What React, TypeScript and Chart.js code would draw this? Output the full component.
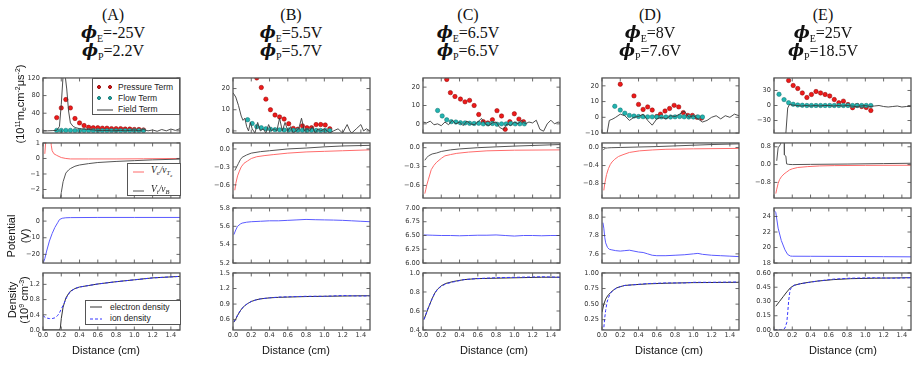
import React, { useEffect, useRef } from 'react';
import { Chart, registerables } from 'chart.js';
Chart.register(...registerables);

// ---------------- data ----------------
const xTicks = [0, 0.2, 0.4, 0.6, 0.8, 1.0, 1.2, 1.4];

// Column A
const A_fieldX = [0, 0.05, 0.1, 0.15, 0.18, 0.2, 0.22, 0.24, 0.26, 0.28, 0.3, 0.33, 0.36, 0.4, 0.45, 0.5, 0.55, 0.6, 0.65, 0.7, 0.75, 0.8, 0.85, 0.9, 0.95, 1.0, 1.05, 1.1, 1.15, 1.2, 1.25, 1.3, 1.35, 1.4, 1.45, 1.5];
const A_fieldY = [0, 0, 0.5, 1, 10, 60, 125, 130, 95, 45, 18, 10, 7, 5, 4, 3, 2, 1, 0.5, 1, 0, 0.5, 1, 0, 1, 2, 0, 3, 0, 2, -1, 3, 0, 4, 1, 5];
const A_presX = [0.15, 0.2, 0.25, 0.3, 0.35, 0.4, 0.45, 0.5, 0.55, 0.6, 0.65, 0.7, 0.75, 0.8, 0.85, 0.9, 0.95, 1.0, 1.05, 1.1];
const A_presY = [30, 52, 71, 52, 28, 18, 12, 8, 7, 7, 6, 6, 5, 5, 5, 4, 4, 3, 3, 2];
const A_flowX = [0.15, 0.2, 0.25, 0.3, 0.35, 0.4, 0.45, 0.5, 0.55, 0.6, 0.65, 0.7, 0.75, 0.8, 0.85, 0.9, 0.95, 1.0, 1.05, 1.1];
const A_flowY = [1, 1, 1, 1, 0.5, 0.5, 0.5, 0.5, 0.5, 0.5, 0.5, 0.5, 0.5, 0.5, 0.5, 0.5, 0.5, 0.5, 0.5, 0.5];
const A_veX = [0.02, 0.035, 0.085, 0.09, 0.1, 0.12, 0.15, 0.2, 0.25, 0.3, 0.5, 0.8, 1.1, 1.5];
const A_veY = [0.3, 1.5, 1.5, 0.86, 0.5, 0.3, 0.2, 0.06, 0.0, -0.03, -0.03, -0.03, -0.02, 0.0];
const A_viX = [0.19, 0.2, 0.22, 0.25, 0.28, 0.3, 0.35, 0.4, 0.5, 0.6, 0.8, 1.0, 1.2, 1.5];
const A_viY = [-2.6, -2.2, -1.5, -0.94, -0.74, -0.65, -0.5, -0.42, -0.33, -0.26, -0.19, -0.14, -0.09, -0.04];
const A_potX = [0, 0.02, 0.04, 0.07, 0.1, 0.13, 0.16, 0.18, 0.21, 0.25, 0.3, 0.6, 1.0, 1.5];
const A_potY = [-25.5, -22.5, -18, -12, -7.5, -3.8, -1, 0.9, 1.7, 2.0, 2.1, 2.2, 2.2, 2.2];
const A_neX = [0, 0.18, 0.19, 0.2, 0.22, 0.25, 0.28, 0.3, 0.35, 0.4, 0.5, 0.6, 0.8, 1.0, 1.2, 1.5];
const A_neY = [0, 0, 0.05, 0.3, 0.6, 0.84, 0.96, 1.02, 1.09, 1.13, 1.17, 1.21, 1.27, 1.32, 1.37, 1.41];
const A_niX = [0, 0.03, 0.07, 0.1, 0.13, 0.16, 0.18, 0.2, 0.23, 0.26, 0.3, 0.35, 0.4, 0.5, 0.6, 0.8, 1.0, 1.2, 1.5];
const A_niY = [0.38, 0.32, 0.3, 0.3, 0.32, 0.38, 0.45, 0.55, 0.7, 0.86, 1.01, 1.09, 1.13, 1.17, 1.21, 1.27, 1.32, 1.37, 1.41];

// Column B
const B_fieldX = [0, 0.03, 0.06, 0.09, 0.11, 0.13, 0.15, 0.17, 0.19, 0.21, 0.24, 0.27, 0.3, 0.33, 0.36, 0.39, 0.42, 0.45, 0.48, 0.51, 0.54, 0.57, 0.6, 0.63, 0.66, 0.69, 0.72, 0.75, 0.78, 0.81, 0.84, 0.87, 0.9, 0.93, 0.96, 1.0, 1.03, 1.06, 1.1, 1.15, 1.2, 1.25, 1.28, 1.3, 1.35, 1.4, 1.43, 1.46, 1.5];
const B_fieldY = [18, 16, 12, 7, 5, 6, 2, 0, 4, 1, -1, 4, 0, 1, -1, 3, 0, 1, 0, 6, 0, 4, 0, 2, -1, 0, 1, 6, 0, 1, 0, 2, -1, 1, 0, 1, 0, -1, 0, 1, -1, 3, 0, -1, 1, 3, 0, 1, 0];
const B_presX = [0.26, 0.31, 0.36, 0.41, 0.46, 0.51, 0.56, 0.61, 0.66, 0.71, 0.76, 0.81, 0.86, 0.91, 0.96, 1.01, 1.06];
const B_presY = [25, 20.5, 15, 10, 7.5, 6.6, 5.6, 3.4, 1.2, 0.8, 2.4, 1.5, 1.5, 3, 3, 2.8, 1];
const B_flowX = [0.16, 0.21, 0.26, 0.31, 0.36, 0.41, 0.46, 0.51, 0.56, 0.61, 0.66, 0.71, 0.76, 0.81, 0.86, 0.91, 0.96, 1.01, 1.06];
const B_flowY = [5.3, 3.5, 2, 1.5, 1, 0.8, 0.6, 0.5, 0.4, 0.4, 0.3, 0.3, 0.3, 0.2, 0.3, 0.2, 0.2, 0.2, 0.2];
const B_veX = [0.02, 0.03, 0.05, 0.07, 0.09, 0.12, 0.16, 0.2, 0.26, 0.35, 0.44, 0.6, 0.8, 1.0, 1.2, 1.5];
const B_veY = [-0.69, -0.58, -0.45, -0.37, -0.3, -0.24, -0.2, -0.16, -0.13, -0.11, -0.095, -0.07, -0.05, -0.04, -0.03, -0.015];
const B_viX = [0.02, 0.04, 0.06, 0.08, 0.1, 0.15, 0.2, 0.3, 0.4, 0.6, 0.8, 1.0, 1.2, 1.5];
const B_viY = [-0.36, -0.3, -0.24, -0.18, -0.14, -0.1, -0.07, -0.045, -0.03, 0.0, 0.015, 0.035, 0.05, 0.06];
const B_potX = [0.01, 0.03, 0.05, 0.08, 0.1, 0.15, 0.2, 0.3, 0.4, 0.5, 0.6, 0.7, 0.8, 0.9, 1.0, 1.1, 1.2, 1.3, 1.4, 1.5];
const B_potY = [5.51, 5.56, 5.6, 5.625, 5.635, 5.645, 5.65, 5.655, 5.66, 5.66, 5.665, 5.67, 5.675, 5.672, 5.67, 5.668, 5.665, 5.66, 5.655, 5.65];
const B_neX = [0.01, 0.03, 0.05, 0.08, 0.1, 0.13, 0.16, 0.2, 0.25, 0.3, 0.4, 0.5, 0.6, 0.8, 1.0, 1.2, 1.4, 1.5];
const B_neY = [0.55, 0.61, 0.68, 0.77, 0.82, 0.87, 0.91, 0.95, 0.98, 1.0, 1.02, 1.03, 1.035, 1.045, 1.05, 1.055, 1.06, 1.06];
const B_niY = [0.56, 0.61, 0.69, 0.77, 0.82, 0.87, 0.91, 0.95, 0.98, 1.0, 1.02, 1.035, 1.04, 1.05, 1.05, 1.065, 1.055, 1.06];

// Column C
const C_fieldX = [0, 0.04, 0.08, 0.12, 0.16, 0.2, 0.24, 0.28, 0.32, 0.36, 0.4, 0.44, 0.48, 0.52, 0.56, 0.6, 0.64, 0.68, 0.72, 0.76, 0.8, 0.84, 0.88, 0.92, 0.96, 1.0, 1.04, 1.08, 1.12, 1.16, 1.2, 1.24, 1.28, 1.32, 1.36, 1.4, 1.44, 1.48, 1.5];
const C_fieldY = [1, 0.5, 1.5, -0.5, 0, -1, 1, -0.5, 2, 0, 1, -1, 1.5, 0, -0.5, 1, 3, 0, -1, 0.5, 1, -2, -3, 0, -1, 1, 0, 2, 0, 1, 0.5, 2, -3, -4, 0, 2, 0, 1, 0.5];
const C_presX = [0.26, 0.3, 0.35, 0.41, 0.46, 0.51, 0.56, 0.61, 0.66, 0.71, 0.76, 0.81, 0.86, 0.9, 0.95, 1.0, 1.05, 1.1];
const C_presY = [24.2, 17, 14.9, 13.5, 12, 12.8, 10, 5.1, 1.2, 0.5, 2.2, 7.2, 4.3, -3, 1.2, 5.5, 2.6, 1.2];
const C_flowX = [0.16, 0.21, 0.26, 0.31, 0.36, 0.41, 0.46, 0.51, 0.56, 0.61, 0.66, 0.71, 0.76, 0.81, 0.86, 0.91, 0.96, 1.01, 1.06, 1.11];
const C_flowY = [7.3, 4.3, 2.2, 1.2, 1, 0.6, 0.5, 0.3, 0.2, 0.3, 0, 0, 0.2, -0.2, 0, 0, 0.2, 0, 0, 0];
const C_veX = [0.02, 0.03, 0.04, 0.06, 0.09, 0.12, 0.15, 0.2, 0.24, 0.3, 0.37, 0.5, 0.7, 1.0, 1.5];
const C_veY = [-0.73, -0.67, -0.6, -0.5, -0.35, -0.28, -0.23, -0.17, -0.13, -0.11, -0.09, -0.07, -0.05, -0.04, -0.035];
const C_viX = [0.02, 0.04, 0.06, 0.1, 0.15, 0.2, 0.3, 0.4, 0.6, 0.8, 1.0, 1.2, 1.5];
const C_viY = [-0.2, -0.16, -0.13, -0.1, -0.084, -0.06, -0.035, -0.02, 0.0, 0.013, 0.025, 0.035, 0.05];
const C_potX = [0.01, 0.1, 0.2, 0.3, 0.4, 0.5, 0.6, 0.7, 0.8, 0.9, 1.0, 1.1, 1.2, 1.3, 1.4, 1.5];
const C_potY = [6.51, 6.505, 6.5, 6.5, 6.495, 6.5, 6.505, 6.505, 6.51, 6.5, 6.49, 6.5, 6.5, 6.495, 6.5, 6.5];
const C_neX = [0.01, 0.03, 0.05, 0.07, 0.1, 0.13, 0.16, 0.2, 0.25, 0.33, 0.45, 0.58, 0.8, 1.05, 1.3, 1.5];
const C_neY = [0.51, 0.56, 0.61, 0.66, 0.73, 0.79, 0.83, 0.865, 0.89, 0.91, 0.93, 0.94, 0.945, 0.95, 0.955, 0.955];
const C_niY = [0.51, 0.56, 0.62, 0.66, 0.73, 0.79, 0.83, 0.86, 0.885, 0.905, 0.93, 0.94, 0.95, 0.955, 0.96, 0.955];

// Column D
const D_fieldX = [0.04, 0.05, 0.08, 0.1, 0.12, 0.15, 0.2, 0.25, 0.3, 0.35, 0.4, 0.45, 0.5, 0.55, 0.6, 0.65, 0.7, 0.75, 0.8, 0.85, 0.9, 0.95, 1.0, 1.05, 1.1, 1.15, 1.2, 1.25, 1.3, 1.35, 1.4, 1.45, 1.5];
const D_fieldY = [-30, -12, -2, -1.5, -1, 0, 2, 1, -2, 0, 0.5, 2, -2, -5, -1, 0, -1, 1, 0.5, 2, 4, 0, 1, -1, -3, -2, 0, 1, -1, 1, 0, 2, 1];
const D_presX = [0.2, 0.35, 0.4, 0.45, 0.5, 0.55, 0.6, 0.64, 0.69, 0.74, 0.79, 0.84, 0.89, 0.94, 0.99, 1.04, 1.09];
const D_presY = [21, 13.6, 8.2, 5, 6.6, 4.6, 0.5, 2, 4, 5.6, 7.6, 6.6, 3, 1.2, 1.2, 0, -0.5];
const D_flowX = [0.14, 0.2, 0.25, 0.3, 0.35, 0.4, 0.45, 0.5, 0.55, 0.6, 0.65, 0.7, 0.75, 0.8, 0.85, 0.9, 0.95, 1.0, 1.05, 1.1];
const D_flowY = [7, 4.6, 2.6, 1.2, 0.8, 0.5, 0.4, 0.3, 0.3, 0.2, 0.3, 0.2, 0.2, 0.3, 0.5, 0.3, 0.2, 0.2, 0.3, 0.2];
const D_veX = [0.02, 0.03, 0.04, 0.05, 0.07, 0.09, 0.11, 0.14, 0.18, 0.23, 0.3, 0.41, 0.55, 0.7, 1.0, 1.5];
const D_veY = [-0.95, -0.8, -0.7, -0.6, -0.47, -0.38, -0.32, -0.26, -0.2, -0.16, -0.11, -0.075, -0.055, -0.04, -0.03, -0.02];
const D_viX = [0.01, 0.02, 0.04, 0.06, 0.1, 0.2, 0.4, 0.6, 0.8, 1.0, 1.2, 1.5];
const D_viY = [-0.06, -0.04, -0.015, -0.01, -0.005, 0.0, 0.01, 0.02, 0.035, 0.05, 0.065, 0.08];
const D_potX = [0.01, 0.02, 0.03, 0.04, 0.06, 0.08, 0.1, 0.15, 0.2, 0.25, 0.3, 0.35, 0.4, 0.45, 0.5, 0.55, 0.6, 0.7, 0.8, 0.9, 1.0, 1.05, 1.1, 1.2, 1.3, 1.4, 1.5];
const D_potY = [7.94, 7.88, 7.78, 7.72, 7.67, 7.65, 7.645, 7.635, 7.63, 7.635, 7.64, 7.63, 7.62, 7.615, 7.6, 7.585, 7.58, 7.58, 7.585, 7.59, 7.6, 7.605, 7.595, 7.585, 7.58, 7.575, 7.57];
const D_neX = [0.0, 0.02, 0.04, 0.06, 0.09, 0.12, 0.16, 0.2, 0.25, 0.34, 0.5, 0.7, 1.0, 1.5];
const D_neY = [0.37, 0.5, 0.58, 0.63, 0.68, 0.72, 0.76, 0.78, 0.8, 0.81, 0.825, 0.835, 0.845, 0.85];
const D_niX = [0.015, 0.02, 0.03, 0.04, 0.055, 0.07, 0.09, 0.12, 0.16, 0.2, 0.25, 0.34, 0.5, 0.7, 0.9, 1.0, 1.2, 1.5];
const D_niY = [0.05, 0.12, 0.28, 0.4, 0.53, 0.6, 0.67, 0.72, 0.76, 0.78, 0.8, 0.81, 0.83, 0.84, 0.84, 0.85, 0.85, 0.855];

// Column E
const E_fieldX = [0.12, 0.15, 0.17, 0.2, 0.25, 0.3, 0.35, 0.4, 0.45, 0.5, 0.55, 0.6, 0.65, 0.7, 0.75, 0.8, 0.85, 0.9, 0.95, 1.0, 1.05, 1.1, 1.15, 1.2, 1.25, 1.3, 1.35, 1.4, 1.45, 1.5];
const E_fieldY = [-80, -5, 2, 1, 0, -1, 0, -1, 0, -1, 0, 0, -1, 0, -1, 0, -1, -2, -1, 0, -2, -1, 0, -2, -3, -2, -1, -3, -2, -2];
const E_presX = [0.16, 0.21, 0.26, 0.31, 0.36, 0.41, 0.46, 0.51, 0.56, 0.61, 0.66, 0.71, 0.76, 0.81, 0.86, 0.91, 0.96, 1.01, 1.06];
const E_presY = [50, 40, 34, 25, 16, 22, 28, 25, 22, 19, 12, 5.6, 8.7, 1.9, -4.4, 0, -2, -4, -10];
const E_flowX = [0.055, 0.11, 0.16, 0.21, 0.26, 0.31, 0.36, 0.41, 0.46, 0.51, 0.56, 0.61, 0.66, 0.71, 0.76, 0.81, 0.86, 0.91, 0.96, 1.01, 1.06];
const E_flowY = [22.4, 11.8, 5.6, 2.5, 1, 0.5, 0, 0, 0, 0, 0, 0, 0, 0, 0, 0, 0, 0, 0, 0, 0];
const E_veX = [0.02, 0.03, 0.045, 0.06, 0.08, 0.11, 0.14, 0.17, 0.2, 0.26, 0.37, 0.5, 0.66, 1.0, 1.5];
const E_veY = [-1.3, -1.1, -0.85, -0.68, -0.55, -0.42, -0.33, -0.24, -0.19, -0.13, -0.09, -0.06, -0.045, -0.035, -0.03];
const E_viX = [0.03, 0.045, 0.07, 0.09, 0.112, 0.114, 0.13, 0.138, 0.16, 0.2, 0.4, 0.8, 1.2, 1.5];
const E_viY = [0.17, 0.75, 0.9, 1.2, 1.2, 0.43, 0.38, 0.03, 0.01, 0.0, 0.01, 0.025, 0.045, 0.06];
const E_potX = [0.0, 0.02, 0.045, 0.08, 0.12, 0.15, 0.18, 0.2, 0.4, 0.8, 1.2, 1.5];
const E_potY = [24.8, 24.5, 22.5, 20.9, 19.7, 19.1, 18.9, 18.88, 18.87, 18.85, 18.82, 18.8];
const E_neX = [0.02, 0.06, 0.1, 0.14, 0.18, 0.22, 0.29, 0.38, 0.48, 0.65, 0.84, 1.1, 1.5];
const E_neY = [0.25, 0.3, 0.35, 0.4, 0.445, 0.47, 0.487, 0.502, 0.515, 0.53, 0.54, 0.545, 0.55];
const E_niX = [0.0, 0.05, 0.08, 0.1, 0.12, 0.14, 0.15, 0.16, 0.17, 0.18, 0.2, 0.22, 0.29, 0.38, 0.48, 0.65, 0.84, 1.1, 1.3, 1.5];
const E_niY = [0, 0, 0, 0.005, 0.02, 0.08, 0.18, 0.3, 0.38, 0.43, 0.455, 0.47, 0.487, 0.5, 0.515, 0.535, 0.545, 0.55, 0.545, 0.55];

// y axis ranges and ticks per row (columns A..E)
const row1Range = [[-5, 120], [-1, 25], [-5, 25], [-10, 25], [-55, 55]];
const row1Ticks = [[0, 40, 80, 120], [0, 10, 20], [0, 10, 20], [-10, 0, 10, 20], [-30, 0, 30]];
const row2Range = [[-2.55, 1], [-0.82, 0.1], [-0.8, 0.075], [-1.12, 0.1], [-1.5, 0.97]];
const row2Ticks = [[-2, -1, 0, 1], [-0.6, -0.3, 0], [-0.6, -0.3, 0], [-0.8, -0.4, 0], [-0.8, 0, 0.8]];
const row3Range = [[-25.2, 7.9], [5.2, 5.8], [6, 7], [7.5, 8.1], [18, 25.1]];
const row3Ticks = [[-20, -10, 0], [5.2, 5.4, 5.6, 5.8], [6, 6.25, 6.5, 6.75, 7], [7.6, 7.8, 8.0], [18, 20, 22, 24]];
const row4Range = [[0, 1.5], [0.4, 1.5], [0.4, 1.0], [0.085, 1.0], [0, 0.6]];
const row4Ticks = [[0, 0.4, 0.8, 1.2], [0.6, 0.9, 1.2, 1.5], [0.4, 0.6, 0.8, 1.0], [0.25, 0.5, 0.75, 1.0], [0, 0.15, 0.3, 0.45, 0.6]];
const tickDecimals = [[0, 0, 0, 0, 0], [0, 1, 1, 1, 1], [0, 1, 2, 1, 0], [1, 1, 1, 2, 2]];

const titles = [
  { tag: '(A)', e: '-25V', p: '2.2V' },
  { tag: '(B)', e: '5.5V', p: '5.7V' },
  { tag: '(C)', e: '6.5V', p: '6.5V' },
  { tag: '(D)', e: '8V', p: '7.6V' },
  { tag: '(E)', e: '25V', p: '18.5V' },
];

// ---------------- layout ----------------
const PLOT_LEFT = [43, 233, 423, 602, 774];
const ROW_TOP = [76, 141, 206, 271];
const PW = 137;
const PH = 59;
const YW = 38;
const PAD = 5;
const XH = 14;
const TITLE_CX = [113, 291, 468, 650, 823];
const XLABEL_CX = [106, 296, 494, 669, 843];

type Kind = 'field' | 'pres' | 'flow' | 've' | 'vi' | 'pot' | 'ne' | 'ni';
type S = { x: number[]; y: number[]; k: Kind };

const RED = '#ee1a1a';
const RED_EDGE = '#8a0000';
const TEAL = '#22b4b0';
const TEAL_EDGE = '#0f6e6c';
const PR = 2.2;

const STYLE: Record<Kind, any> = {
  field: { showLine: true, borderColor: '#3a3a3a', borderWidth: 0.9, pointRadius: 0 },
  pres: { showLine: false, pointRadius: PR, backgroundColor: RED, borderColor: RED_EDGE, borderWidth: 0.5 },
  flow: { showLine: false, pointRadius: PR, backgroundColor: TEAL, borderColor: TEAL_EDGE, borderWidth: 0.5 },
  ve: { showLine: true, borderColor: '#ff6b6b', borderWidth: 1, pointRadius: 0 },
  vi: { showLine: true, borderColor: '#555555', borderWidth: 1, pointRadius: 0 },
  pot: { showLine: true, borderColor: '#5a5aff', borderWidth: 1, pointRadius: 0 },
  ne: { showLine: true, borderColor: '#333333', borderWidth: 1, pointRadius: 0 },
  ni: { showLine: true, borderColor: '#3434ff', borderWidth: 1, borderDash: [3, 2], pointRadius: 0 },
};

const panels: S[][][] = [
  [
    [{ x: A_fieldX, y: A_fieldY, k: 'field' }, { x: A_flowX, y: A_flowY, k: 'flow' }, { x: A_presX, y: A_presY, k: 'pres' }],
    [{ x: A_viX, y: A_viY, k: 'vi' }, { x: A_veX, y: A_veY, k: 've' }],
    [{ x: A_potX, y: A_potY, k: 'pot' }],
    [{ x: A_niX, y: A_niY, k: 'ni' }, { x: A_neX, y: A_neY, k: 'ne' }],
  ],
  [
    [{ x: B_fieldX, y: B_fieldY, k: 'field' }, { x: B_flowX, y: B_flowY, k: 'flow' }, { x: B_presX, y: B_presY, k: 'pres' }],
    [{ x: B_viX, y: B_viY, k: 'vi' }, { x: B_veX, y: B_veY, k: 've' }],
    [{ x: B_potX, y: B_potY, k: 'pot' }],
    [{ x: B_neX, y: B_niY, k: 'ni' }, { x: B_neX, y: B_neY, k: 'ne' }],
  ],
  [
    [{ x: C_fieldX, y: C_fieldY, k: 'field' }, { x: C_flowX, y: C_flowY, k: 'flow' }, { x: C_presX, y: C_presY, k: 'pres' }],
    [{ x: C_viX, y: C_viY, k: 'vi' }, { x: C_veX, y: C_veY, k: 've' }],
    [{ x: C_potX, y: C_potY, k: 'pot' }],
    [{ x: C_neX, y: C_niY, k: 'ni' }, { x: C_neX, y: C_neY, k: 'ne' }],
  ],
  [
    [{ x: D_fieldX, y: D_fieldY, k: 'field' }, { x: D_flowX, y: D_flowY, k: 'flow' }, { x: D_presX, y: D_presY, k: 'pres' }],
    [{ x: D_viX, y: D_viY, k: 'vi' }, { x: D_veX, y: D_veY, k: 've' }],
    [{ x: D_potX, y: D_potY, k: 'pot' }],
    [{ x: D_niX, y: D_niY, k: 'ni' }, { x: D_neX, y: D_neY, k: 'ne' }],
  ],
  [
    [{ x: E_fieldX, y: E_fieldY, k: 'field' }, { x: E_flowX, y: E_flowY, k: 'flow' }, { x: E_presX, y: E_presY, k: 'pres' }],
    [{ x: E_viX, y: E_viY, k: 'vi' }, { x: E_veX, y: E_veY, k: 've' }],
    [{ x: E_potX, y: E_potY, k: 'pot' }],
    [{ x: E_niX, y: E_niY, k: 'ni' }, { x: E_neX, y: E_neY, k: 'ne' }],
  ],
];

const ranges = [row1Range, row2Range, row3Range, row4Range];
const yticks = [row1Ticks, row2Ticks, row3Ticks, row4Ticks];

const TICK_FONT = { family: '"DejaVu Sans", sans-serif', size: 6.6 };
const TICK_COLOR = '#333';

const fmt = (v: number, d: number) => v.toFixed(d).replace('-', '\u2212');

const framePlugin = {
  id: 'frame',
  afterDatasetsDraw(chart: any) {
    const { ctx, chartArea: a, scales } = chart;
    ctx.save();
    ctx.strokeStyle = '#444';
    ctx.lineWidth = 0.8;
    const L = 3.5;
    ctx.beginPath();
    scales.x.ticks.forEach((t: any) => {
      const p = scales.x.getPixelForValue(t.value);
      ctx.moveTo(p, a.bottom); ctx.lineTo(p, a.bottom - L);
      ctx.moveTo(p, a.top); ctx.lineTo(p, a.top + L);
    });
    scales.y.ticks.forEach((t: any) => {
      const p = scales.y.getPixelForValue(t.value);
      ctx.moveTo(a.left, p); ctx.lineTo(a.left + L, p);
      ctx.moveTo(a.right, p); ctx.lineTo(a.right - L, p);
    });
    ctx.stroke();
    ctx.strokeStyle = '#555';
    ctx.lineWidth = 1.3;
    ctx.strokeRect(a.left, a.top, a.right - a.left, a.bottom - a.top);
    ctx.restore();
  },
};

function Panel({ col, row }: { col: number; row: number }) {
  const ref = useRef<HTMLCanvasElement>(null);
  const last = row === 3;
  const w = YW + PW + PAD;
  const h = PAD + PH + (last ? XH : PAD);
  useEffect(() => {
    if (!ref.current) return;
    const [ymin, ymax] = ranges[row][col];
    const yt = yticks[row][col];
    const dec = tickDecimals[row][col];
    const chart = new Chart(ref.current, {
      type: 'scatter',
      data: {
        datasets: panels[col][row].map((s) => ({
          data: s.x.map((x, i) => ({ x, y: s.y[i] })),
          clip: 0,
          tension: 0,
          ...STYLE[s.k],
        })),
      },
      options: {
        animation: false,
        responsive: false,
        maintainAspectRatio: false,
        devicePixelRatio: 1,
        events: [],
        layout: { padding: { left: 0, right: PAD, top: PAD, bottom: last ? 0 : PAD }, autoPadding: false },
        plugins: { legend: { display: false }, tooltip: { enabled: false } },
        scales: {
          x: {
            type: 'linear',
            min: 0,
            max: 1.5,
            afterBuildTicks: (s: any) => { s.ticks = xTicks.map((v) => ({ value: v })); },
            afterFit: (s: any) => { s.height = last ? XH : 0; },
            ticks: {
              display: last,
              autoSkip: false,
              maxRotation: 0,
              padding: 1,
              font: TICK_FONT,
              color: TICK_COLOR,
              callback: (v: any) => Number(v).toFixed(1),
            },
            grid: { display: false, drawTicks: false },
            border: { display: false },
          },
          y: {
            type: 'linear',
            min: ymin,
            max: ymax,
            afterBuildTicks: (s: any) => { s.ticks = yt.map((v) => ({ value: v })); },
            afterFit: (s: any) => { s.width = YW; },
            ticks: {
              autoSkip: false,
              padding: 3,
              font: TICK_FONT,
              color: TICK_COLOR,
              callback: (v: any) => fmt(Number(v), dec),
            },
            grid: { display: false, drawTicks: false },
            border: { display: false },
          },
        },
      } as any,
      plugins: [framePlugin],
    });
    return () => chart.destroy();
  }, [col, row]);
  return (
    <canvas
      ref={ref}
      width={w}
      height={h}
      style={{ position: 'absolute', left: PLOT_LEFT[col] - YW, top: ROW_TOP[row] - PAD, width: w, height: h }}
    />
  );
}

const SANS = '"Liberation Sans", Arial, sans-serif';
const SERIF = '"Liberation Serif", "DejaVu Serif", serif';

function Title({ i }: { i: number }) {
  const t = titles[i];
  const base: React.CSSProperties = {
    position: 'absolute', left: TITLE_CX[i], transform: 'translateX(-50%)', whiteSpace: 'nowrap',
    fontFamily: SERIF, fontSize: 16, lineHeight: '16px', color: '#111',
  };
  const phi = (sub: string) => (
    <>
      <span style={{ fontFamily: '"DejaVu Serif", serif', fontWeight: 'bold', fontStyle: 'italic', fontSize: 17 }}>{'\u03D5'}</span>
      <span style={{ fontSize: 10, position: 'relative', top: 4 }}>{sub}</span>
    </>
  );
  return (
    <>
      <div style={{ ...base, top: 7 }}>{t.tag}</div>
      <div style={{ ...base, top: 24 }}>{phi('E')}={t.e}</div>
      <div style={{ ...base, top: 42 }}>{phi('P')}={t.p}</div>
    </>
  );
}

const dot = (c: string, b: string, x: number, y: number) => (
  <div style={{ position: 'absolute', left: x - PR, top: y - PR, width: PR * 2, height: PR * 2, borderRadius: '50%', background: c, boxSizing: 'border-box', border: `0.5px solid ${b}` }} />
);
const seg = (x1: number, x2: number, y: number, c: string, dashed = false) => (
  <svg style={{ position: 'absolute', left: x1, top: y - 2, overflow: 'visible' }} width={x2 - x1} height={4}>
    <line x1={0} y1={2} x2={x2 - x1} y2={2} stroke={c} strokeWidth={1} strokeDasharray={dashed ? '3 2' : undefined} />
  </svg>
);
const txt = (x: number, y: number, content: React.ReactNode, font = SANS, size = 8.5, extra: React.CSSProperties = {}) => (
  <div style={{ position: 'absolute', left: x, top: y - size * 0.6, fontFamily: font, fontSize: size, lineHeight: `${size * 1.2}px`, whiteSpace: 'nowrap', color: '#222', ...extra }}>{content}</div>
);

function Legends() {
  const box = (l: number, t: number, w: number, h: number) => (
    <div style={{ position: 'absolute', left: l, top: t, width: w, height: h, border: '1px solid #555', background: '#fff', boxSizing: 'border-box' }} />
  );
  const subS: React.CSSProperties = { fontSize: 6.5, verticalAlign: -2, lineHeight: 0 };
  return (
    <>
      {box(92, 78, 88, 37)}
      {dot(RED, RED_EDGE, 99, 86.7)}
      {dot(RED, RED_EDGE, 110, 86.7)}
      {txt(118, 86.7, 'Pressure Term')}
      {dot(TEAL, TEAL_EDGE, 99, 98.3)}
      {dot(TEAL, TEAL_EDGE, 110, 98.3)}
      {txt(118, 98.3, 'Flow Term')}
      {seg(97, 113, 109.5, '#3a3a3a')}
      {txt(118, 109.5, 'Field Term')}

      {box(127, 163, 54, 33)}
      {seg(133, 144, 171.5, '#ff6b6b')}
      {txt(151, 170.5, <span style={{ fontStyle: 'italic' }}>V<sub style={subS}>e</sub>/v<sub style={subS}>T<sub style={{ fontSize: 4.5, verticalAlign: -1.5 }}>e</sub></sub></span>, SERIF, 9.5)}
      {seg(133, 144, 190.5, '#555555')}
      {txt(151, 189.5, <span style={{ fontStyle: 'italic' }}>V<sub style={subS}>i</sub>/v<sub style={subS}>B</sub></span>, SERIF, 9.5)}

      {box(85, 300, 96, 25)}
      {seg(90, 102, 306.5, '#333333')}
      {txt(110, 306.7, 'electron density')}
      {seg(90, 102, 318.5, '#3434ff', true)}
      {txt(110, 318.3, 'ion density')}
    </>
  );
}

function AxisLabels() {
  const rot = (cx: number, cy: number, content: React.ReactNode, lh = 13) => (
    <div style={{ position: 'absolute', left: cx, top: cy, transform: 'translate(-50%, -50%) rotate(-90deg)', whiteSpace: 'nowrap', textAlign: 'center', fontFamily: SANS, fontSize: 11, lineHeight: `${lh}px`, color: '#111' }}>{content}</div>
  );
  const sup = (s: string) => <sup style={{ fontSize: 7, verticalAlign: 4, lineHeight: 0 }}>{s}</sup>;
  const sub = (s: string) => <sub style={{ fontSize: 7, verticalAlign: -2, lineHeight: 0 }}>{s}</sub>;
  return (
    <>
      {rot(20, 104, <>(10{sup('11')}m{sub('e')}cm{sup('-2')}μs{sup('-2')})</>)}
      {rot(18, 236, <>Potential<br />(V)</>, 14)}
      {rot(18, 300, <>Density<br />(10{sup('9')} cm{sup('-3')})</>, 12)}
      {XLABEL_CX.map((cx, i) => (
        <div key={i} style={{ position: 'absolute', left: cx, top: 343, transform: 'translateX(-50%)', whiteSpace: 'nowrap', fontFamily: SANS, fontSize: 11, lineHeight: '14px', color: '#111' }}>Distance (cm)</div>
      ))}
    </>
  );
}

export default function App() {
  const cells: React.ReactNode[] = [];
  for (let c = 0; c < 5; c++) for (let r = 0; r < 4; r++) cells.push(<Panel key={`${c}-${r}`} col={c} row={r} />);
  return (
    <div style={{ position: 'absolute', left: 0, top: 0, width: 920, height: 368, background: '#fff', overflow: 'hidden' }}>
      {cells}
      {[0, 1, 2, 3, 4].map((i) => <Title key={i} i={i} />)}
      <Legends />
      <AxisLabels />
    </div>
  );
}
